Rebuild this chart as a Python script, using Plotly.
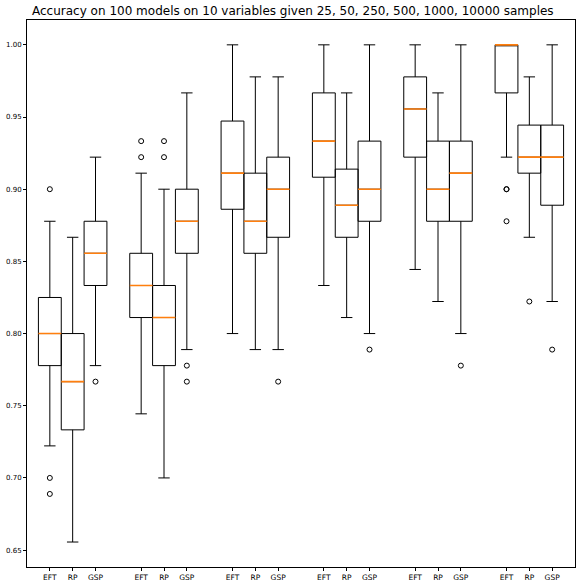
import plotly.graph_objects as go

# sample sizes per group and methods inside each group
sample_sizes = [25, 50, 250, 500, 1000, 10000]
methods = ["EFT", "RP", "GSP"]

# box statistics, one entry per box in order EFT, RP, GSP for each sample size
q1 = [0.7778, 0.7333, 0.8333,
      0.8111, 0.7778, 0.8556,
      0.8861, 0.8556, 0.8667,
      0.9083, 0.8667, 0.8778,
      0.9222, 0.8778, 0.8778,
      0.9667, 0.9111, 0.8889]
medians = [0.8000, 0.7667, 0.8556,
           0.8333, 0.8111, 0.8778,
           0.9111, 0.8778, 0.9000,
           0.9333, 0.8889, 0.9000,
           0.9556, 0.9000, 0.9111,
           1.0000, 0.9222, 0.9222]
q3 = [0.8250, 0.8000, 0.8778,
      0.8556, 0.8333, 0.9000,
      0.9472, 0.9111, 0.9222,
      0.9667, 0.9139, 0.9333,
      0.9778, 0.9333, 0.9333,
      1.0000, 0.9444, 0.9444]
whisker_low = [0.7222, 0.6556, 0.7778,
               0.7444, 0.7000, 0.7889,
               0.8000, 0.7889, 0.7889,
               0.8333, 0.8111, 0.8000,
               0.8444, 0.8222, 0.8000,
               0.9222, 0.8667, 0.8222]
whisker_high = [0.8778, 0.8667, 0.9222,
                0.9111, 0.9000, 0.9667,
                1.0000, 0.9778, 0.9778,
                1.0000, 0.9667, 1.0000,
                1.0000, 0.9667, 1.0000,
                1.0000, 0.9778, 1.0000]
outliers = [[0.9000, 0.7000, 0.6889], [], [0.7667],
            [0.9333, 0.9222], [0.9333, 0.9222], [0.7778, 0.7667],
            [], [], [0.7667],
            [], [], [0.7889],
            [], [], [0.7778],
            [0.9000, 0.9000, 0.8778], [0.8222], [0.7889]]

# x positions: groups of three, one empty slot between groups
positions = [4 * g + k + 1 for g in range(len(sample_sizes)) for k in range(len(methods))]
tick_text = [m for _ in sample_sizes for m in methods]

out_x = [p for p, pts in zip(positions, outliers) for _ in pts]
out_y = [v for pts in outliers for v in pts]

fig = go.Figure()

# boxes + whiskers
fig.add_trace(go.Box(
    x=positions, q1=q1, median=medians, q3=q3,
    lowerfence=whisker_low, upperfence=whisker_high,
    width=1, whiskerwidth=0.5, boxpoints=False,
    line=dict(color='black', width=1), fillcolor='rgba(0,0,0,0)',
    showlegend=False, hoverinfo='skip'))

# orange median lines drawn over the black ones (degenerate boxes)
fig.add_trace(go.Box(
    x=positions, q1=medians, median=medians, q3=medians,
    lowerfence=medians, upperfence=medians,
    width=1, whiskerwidth=0, boxpoints=False,
    line=dict(color='#ff7f0e', width=1.6), fillcolor='rgba(0,0,0,0)',
    showlegend=False, hoverinfo='skip'))

# fliers
fig.add_trace(go.Scatter(
    x=out_x, y=out_y, mode='markers',
    marker=dict(symbol='circle-open', size=5, color='black', line=dict(width=1)),
    showlegend=False, hoverinfo='skip'))

fig.update_layout(
    width=581, height=585,
    paper_bgcolor='white', plot_bgcolor='white',
    margin=dict(l=27, r=6, t=20, b=18, autoexpand=False),
    font=dict(family='DejaVu Sans', size=7, color='black'),
    title=dict(text="Accuracy on 100 models on 10 variables given 25, 50, 250, 500, 1000, 10000 samples",
               xref='container', x=0.504, xanchor='center', yref='container', y=0.981, yanchor='middle',
               font=dict(family='DejaVu Sans', size=12, color='black')),
    boxmode='overlay',
)
fig.update_xaxes(range=[0, 24], tickmode='array', tickvals=positions, ticktext=tick_text,
                 ticks='outside', ticklen=3, tickcolor='black', showgrid=False, zeroline=False,
                 showline=True, linecolor='black', linewidth=1, mirror=True, automargin=False,
                 tickfont=dict(size=7.5))
fig.update_yaxes(range=[0.6383, 1.0172], dtick=0.05, tickformat='.2f',
                 ticks='outside', ticklen=3, tickcolor='black', showgrid=False, zeroline=False,
                 showline=True, linecolor='black', linewidth=1, mirror=True, automargin=False)

fig.write_html("out.html", config={'displayModeBar': False},
               post_script="document.body.style.margin='0';")
